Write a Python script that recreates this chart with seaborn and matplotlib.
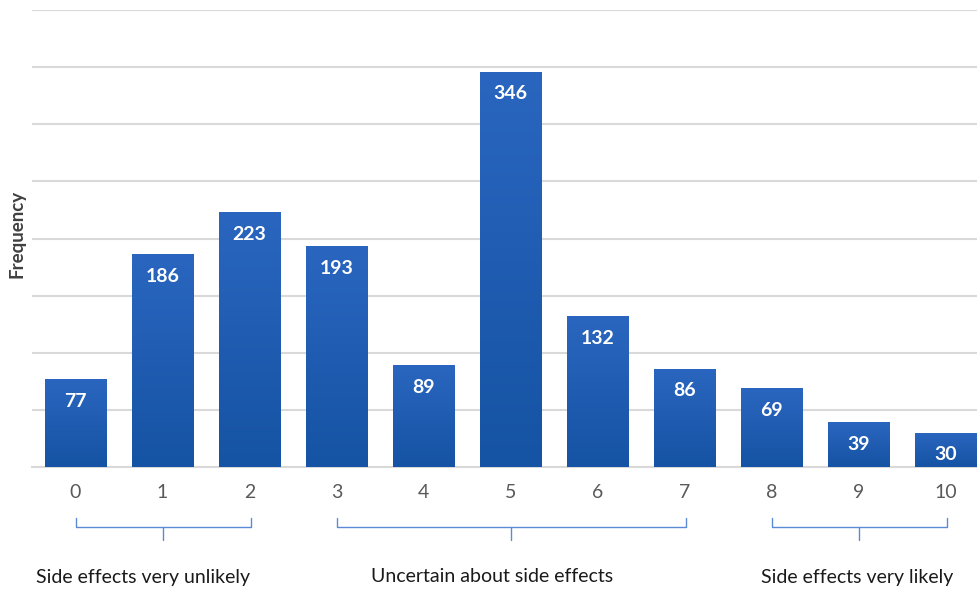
import numpy as np
import pandas as pd
import matplotlib
matplotlib.use("Agg")
import matplotlib.pyplot as plt
import seaborn as sns
from matplotlib.transforms import blended_transform_factory
from matplotlib.colors import LinearSegmentedColormap

scores = ["0", "1", "2", "3", "4", "5", "6", "7", "8", "9", "10"]
frequency = [77, 186, 223, 193, 89, 346, 132, 86, 69, 39, 30]
group_labels = ["Side effects very unlikely", "Uncertain about side effects", "Side effects very likely"]
group_spans = [(0, 2), (3, 7), (8, 10)]
group_label_x = [0.77, 4.79, 8.98]

sns.set_theme(style="white")
plt.rcParams["font.family"] = ["Lato", "DejaVu Sans"]

df = pd.DataFrame({"score": scores, "freq": frequency})

fig = plt.figure(figsize=(9.77, 5.92), dpi=100)
ax = fig.add_axes([32 / 977, (592 - 467) / 592, 1 - 32 / 977, (467 - 10) / 592])

sns.barplot(data=df, x="score", y="freq", color="#1f5bb0", width=0.71, ax=ax,
            saturation=1, zorder=3)

ax.set_xlim(-0.5, 10.36)
ax.set_ylim(0, 400)
ax.set_yticks(np.arange(0, 401, 50))
ax.set_yticklabels([])
ax.tick_params(axis="y", length=0)
ax.grid(axis="y", color="#d9d9d9", linewidth=1.5, zorder=0)
ax.set_axisbelow(True)
for s in ["top", "right", "left"]:
    ax.spines[s].set_visible(False)
ax.spines["bottom"].set_color("#d9d9d9")
ax.spines["bottom"].set_linewidth(1.5)
ax.tick_params(axis="x", length=0, labelsize=14, colors="#595959", pad=12)
ax.set_xlabel("")
ax.set_ylabel("Frequency", fontsize=13.5, fontweight="bold", color="#404040")
ax.yaxis.set_label_coords(-0.007, 0.51)

# gradient fill on bars
cmap = LinearSegmentedColormap.from_list("g", ["#1553a4", "#2a66bf"])
grad = np.linspace(0, 1, 256).reshape(-1, 1)
for p in ax.patches:
    x0, y0 = p.get_x(), p.get_y()
    w, h = p.get_width(), p.get_height()
    im = ax.imshow(grad, cmap=cmap, aspect="auto", origin="lower",
                   extent=[x0, x0 + w, y0, y0 + h], zorder=3.5)
    im.set_clip_path(p)
    p.set_edgecolor("none")
ax.set_xlim(-0.5, 10.36)
ax.set_ylim(0, 400)

for i, v in enumerate(frequency):
    ax.annotate(str(v), xy=(i, v), xytext=(0, -22), textcoords="offset pixels",
                ha="center", va="center", color="white", fontsize=14,
                fontweight="bold", zorder=5)

# brackets
tr = blended_transform_factory(ax.transData, fig.transFigure)
bc = "#5b8bd6"
y_line = 1 - 527 / 592
y_up = 1 - 518 / 592
y_down = 1 - 540 / 592
for (a, b) in group_spans:
    ax.plot([a, a, b + 0.02, b + 0.02], [y_up, y_line, y_line, y_up], transform=tr,
            color=bc, lw=1.0, clip_on=False)
    m = (a + b) / 2
    ax.plot([m, m], [y_line, y_down], transform=tr, color=bc, lw=1.0, clip_on=False)

for lbl, xc in zip(group_labels, group_label_x):
    ax.text(xc, 1 - 577 / 592, lbl, transform=tr, ha="center", va="center",
            fontsize=14, color="#1a1a1a")

fig.savefig("out.png", dpi=100)
